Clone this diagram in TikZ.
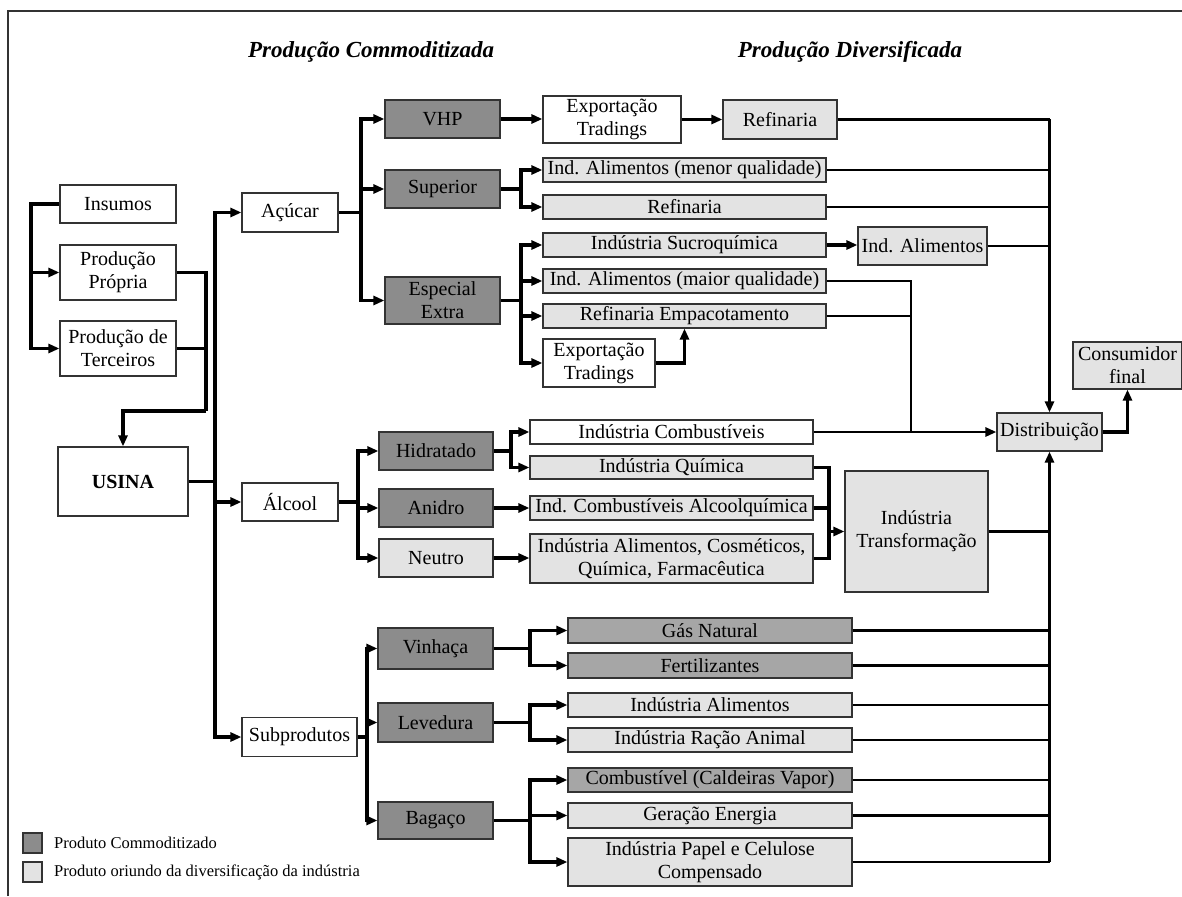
\documentclass[tikz,border=0pt]{standalone}
\usepackage{fontspec}
\setmainfont{Liberation Serif}
\usetikzlibrary{arrows.meta}
\definecolor{dk}{RGB}{140,140,140}
\definecolor{md}{RGB}{166,166,166}
\definecolor{lt}{RGB}{227,227,227}
\begin{document}
\begin{tikzpicture}[x=1pt,y=-1pt,
  bx/.style={draw=black!80, line width=1.2pt, inner sep=0pt, align=center,
    font=\fontsize{20}{23}\selectfont},
  sz/.style 2 args={minimum width=#1pt, minimum height=#2pt},
  wh/.style={bx, fill=white},
  dkb/.style={bx, fill=dk},
  mdb/.style={bx, fill=md},
  ltb/.style={bx, fill=lt},
  ttl/.style={font=\bfseries\itshape\fontsize{23}{27}\selectfont},
  lg/.style={font=\fontsize{16.5}{19}\selectfont, anchor=west, inner sep=0pt},
  ln/.style={line width=3.3pt, black},
  ln2/.style={line width=2.8pt, black},
  arr/.style={ln, -{Triangle[length=11pt,width=9pt]}},
  arr2/.style={ln2, -{Triangle[length=11pt,width=9pt]}}]
\useasboundingbox (0,0) rectangle (1182,896);
\draw[line width=1.3pt, black!80] (8,896) -- (8,11) -- (1182,11);

% titles
\node[ttl] (t1) at (371,52) {Produção Commoditizada};
\node[ttl] (t2) at (850,52) {Produção Diversificada};

% left column
\node[wh, sz={116}{38}] (ins) at (118,204) {Insumos};
\node[wh, sz={116}{55}] (pp) at (118,272.5) {Produção\\Própria};
\node[wh, sz={116}{55}] (pt) at (118,348.5) {Produção de\\Terceiros};
\node[wh, sz={130}{69}, font=\bfseries\fontsize{20}{23}\selectfont] (usina) at (123,481.5) {USINA};
\node[wh, sz={96}{39}] (acucar) at (290,212.5) {Açúcar};
\node[wh, sz={96}{38}] (alcool) at (290,502) {Álcool};
\node[wh, sz={115}{39}] (sub) at (299.5,737) {Subprodutos};

% second column
\node[dkb, sz={115}{38}] (vhp) at (442.5,119) {VHP};
\node[dkb, sz={115}{38}] (sup) at (442.5,189) {Superior};
\node[dkb, sz={115}{47}] (esp) at (442.5,300.5) {Especial\\Extra};
\node[dkb, sz={114}{38}] (hid) at (436,451) {Hidratado};
\node[dkb, sz={114}{38}] (ani) at (436,508) {Anidro};
\node[ltb, sz={114}{38}] (neu) at (436,558) {Neutro};
\node[dkb, sz={115}{41}] (vin) at (435.5,648.5) {Vinhaça};
\node[dkb, sz={115}{39}] (lev) at (435.5,722.5) {Levedura};
\node[dkb, sz={115}{37}] (bag) at (435.5,820.5) {Bagaço};

% sugar branch
\node[wh, sz={138}{47}] (exp1) at (612,119.5) {Exportação\\Tradings};
\node[ltb, sz={114}{39}] (ref1) at (780,119.5) {Refinaria};
\node[ltb, sz={283}{24}] (iam) at (684.5,170) {Ind. Alimentos (menor qualidade)};
\node[ltb, sz={283}{24}] (ref2) at (684.5,207) {Refinaria};
\node[ltb, sz={283}{24}] (suc) at (684.5,245) {Indústria Sucroquímica};
\node[ltb, sz={283}{24}] (iaM) at (684.5,281) {Ind. Alimentos (maior qualidade)};
\node[ltb, sz={283}{24}] (rem) at (684.5,316) {Refinaria Empacotamento};
\node[wh, sz={112}{48}] (exp2) at (599,363) {Exportação\\Tradings};
\node[ltb, sz={129}{38}] (ial) at (922.5,246) {Ind. Alimentos};

% alcohol branch
\node[wh, sz={283}{24}] (icb) at (671.5,432) {Indústria Combustíveis};
\node[ltb, sz={283}{23}] (iqu) at (671.5,467.5) {Indústria Química};
\node[ltb, sz={283}{24}] (ica) at (671.5,508) {Ind. Combustíveis Alcoolquímica};
\node[ltb, sz={283}{49}] (icos) at (671.5,558.5) {Indústria Alimentos, Cosméticos,\\Química, Farmacêutica};
\node[ltb, sz={143}{121}] (itr) at (916.5,531.5) {Indústria\\Transformação};
\node[ltb, sz={105}{38}] (dis) at (1049.5,432) {Distribuição};
\node[ltb, sz={109}{47}] (con) at (1127.5,365.5) {Consumidor\\final};

% by-products branch
\node[mdb, sz={284}{25}] (gas) at (710,630.5) {Gás Natural};
\node[mdb, sz={284}{25}] (fer) at (710,665.5) {Fertilizantes};
\node[ltb, sz={284}{24}] (ial2) at (710,705) {Indústria Alimentos};
\node[ltb, sz={284}{24}] (rac) at (710,740) {Indústria Ração Animal};
\node[mdb, sz={284}{24}] (cmb) at (710,780) {Combustível (Caldeiras Vapor)};
\node[ltb, sz={284}{25}] (ger) at (710,815.5) {Geração Energia};
\node[ltb, sz={284}{48}] (pap) at (710,862) {Indústria Papel e Celulose\\Compensado};

% legend
\node[bx, fill=dk, sz={19}{20}] (lg1) at (32.5,843) {};
\node[bx, fill=lt, sz={19}{20}] (lg2) at (32.5,872) {};
\node[lg] (lt1) at (54,843) {Produto Commoditizado};
\node[lg] (lt2) at (54,872) {Produto oriundo da diversificação da indústria};

% spine coordinates
\coordinate (xL) at (31,0);
\coordinate (xR) at (206,411);
\coordinate (xM) at (215,0);
\coordinate (xA) at (361,0);
\coordinate (xAl) at (358,0);
\coordinate (xSb) at (367,0);
\coordinate (xH) at (511,0);
\coordinate (xS) at (521,0);
\coordinate (xV) at (530,0);
\coordinate (xT) at (829,0);
\coordinate (xE) at (911,0);
\coordinate (xD) at (dis.north);

% inputs
\draw[arr] (ins.west) -- (ins.west -| xL) |- (pt.west);
\draw[arr] (pp.west -| xL) -- (pp.west);
\draw[ln] (pp.east) -- (pp.east -| xR) -- (xR);
\draw[ln] (pt.east) -- (pt.east -| xR);
\draw[arr] (xR) -| (usina.north);

% usina
\draw[ln] (usina.east) -- (usina.east -| xM);
\draw[arr] (usina.east -| xM) |- (acucar.west);
\draw[arr] (usina.east -| xM) |- (sub.west);
\draw[arr] (alcool.west -| xM) -- (alcool.west);

% acucar
\draw[ln] (acucar.east) -- (acucar.east -| xA);
\draw[arr] (acucar.east -| xA) |- (vhp.west);
\draw[arr] (acucar.east -| xA) |- (esp.west);
\draw[arr] (sup.west -| xA) -- (sup.west);
\draw[arr] (vhp.east) -- (vhp.east -| exp1.west);
\draw[arr] (exp1.east) -- (exp1.east -| ref1.west);
\draw[ln] (sup.east) -- (sup.east -| xS);
\draw[arr] (sup.east -| xS) |- (iam.west);
\draw[arr] (sup.east -| xS) |- (ref2.west);
\draw[ln] (esp.east) -- (esp.east -| xS);
\draw[arr] (esp.east -| xS) |- (suc.west);
\draw[arr] (esp.east -| xS) |- (exp2.west);
\draw[arr] (iaM.west -| xS) -- (iaM.west);
\draw[arr] (rem.west -| xS) -- (rem.west);
\draw[arr] (exp2.east) -| (rem.south);
\draw[arr] (suc.east) -- (suc.east -| ial.west);

% to distribution
\draw[ln2] (ref1.east) -- (ref1.east -| xD);
\draw[ln2] (iam.east) -- (iam.east -| xD);
\draw[ln2] (ref2.east) -- (ref2.east -| xD);
\draw[ln2] (ial.east) -- (ial.east -| xD);
\draw[arr2] (ref1.east -| xD) -- (dis.north);
\draw[ln2] (iaM.east) -| (icb.east -| xE);
\draw[ln2] (rem.east) -- (rem.east -| xE);
\draw[arr2] (icb.east) -- (dis.west);
\draw[arr] (dis.east) -| (con.south);

% alcool
\draw[ln] (alcool.east) -- (alcool.east -| xAl);
\draw[arr] (alcool.east -| xAl) |- (hid.west);
\draw[arr] (alcool.east -| xAl) |- (neu.west);
\draw[arr] (ani.west -| xAl) -- (ani.west);
\draw[ln] (hid.east) -- (hid.east -| xH);
\draw[arr] (hid.east -| xH) |- (icb.west);
\draw[arr] (hid.east -| xH) |- (iqu.west);
\draw[arr] (ani.east) -- (ani.east -| ica.west);
\draw[arr] (neu.east) -- (neu.east -| icos.west);
\draw[ln] (iqu.east) -| (icos.east -| xT) -- (icos.east);
\draw[ln] (ica.east) -- (ica.east -| xT);
\draw[arr] (itr.west -| xT) -- (itr.west);
\draw[ln2] (itr.east) -- (itr.east -| xD);

% subprodutos
\draw[ln] (sub.east) -- (sub.east -| xSb);
\draw[arr] (sub.east -| xSb) |- (vin.west);
\draw[arr] (sub.east -| xSb) |- (bag.west);
\draw[arr] (lev.west -| xSb) -- (lev.west);
\draw[ln] (vin.east) -- (vin.east -| xV);
\draw[arr] (vin.east -| xV) |- (gas.west);
\draw[arr] (vin.east -| xV) |- (fer.west);
\draw[ln] (lev.east) -- (lev.east -| xV);
\draw[arr] (lev.east -| xV) |- (ial2.west);
\draw[arr] (lev.east -| xV) |- (rac.west);
\draw[ln] (bag.east) -- (bag.east -| xV);
\draw[arr] (bag.east -| xV) |- (cmb.west);
\draw[arr] (bag.east -| xV) |- (pap.west);
\draw[arr] (ger.west -| xV) -- (ger.west);

% by-products to distribution
\draw[ln2] (gas.east) -- (gas.east -| xD);
\draw[ln2] (fer.east) -- (fer.east -| xD);
\draw[ln2] (ial2.east) -- (ial2.east -| xD);
\draw[ln2] (rac.east) -- (rac.east -| xD);
\draw[ln2] (cmb.east) -- (cmb.east -| xD);
\draw[ln2] (ger.east) -- (ger.east -| xD);
\draw[ln2] (pap.east) -- (pap.east -| xD);
\draw[arr2] (pap.east -| xD) -- (dis.south);
\end{tikzpicture}
\end{document}
